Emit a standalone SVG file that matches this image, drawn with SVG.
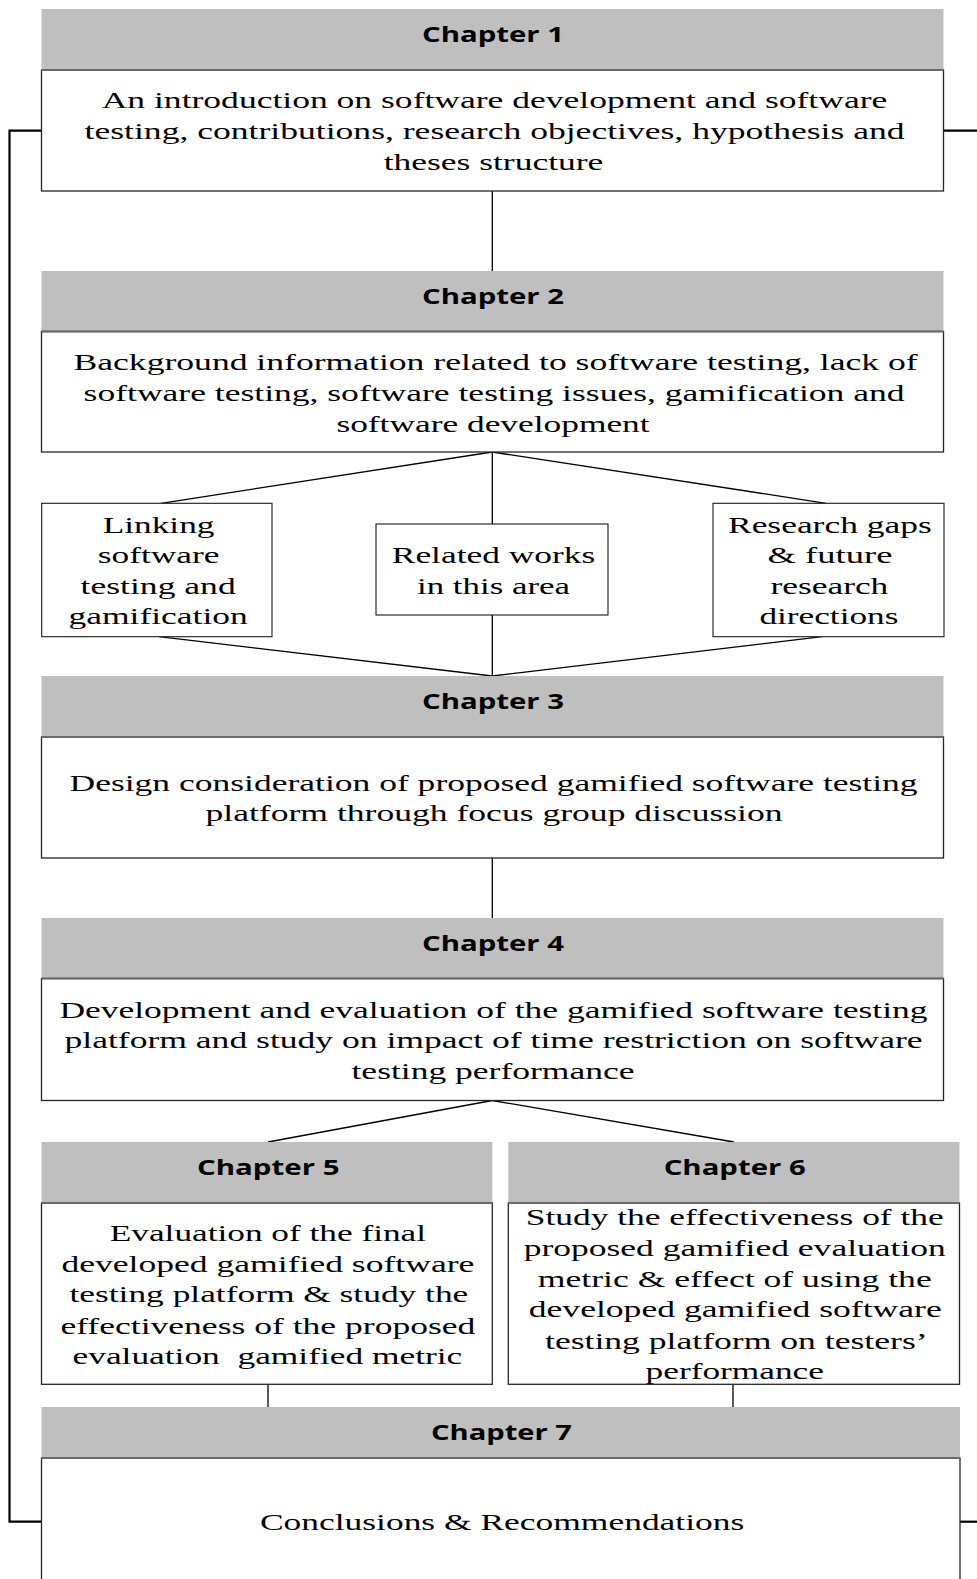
<svg xmlns="http://www.w3.org/2000/svg" width="977" height="1579" viewBox="0 0 977 1579">
  <style>
    .hdr { fill: #bfbfbf; stroke: none; }
    .body { fill: #ffffff; stroke: #262626; stroke-width: 1.3; }
    .sub { fill: #ffffff; stroke: #1a1a1a; stroke-width: 1.1; }
    .div { stroke: #6a6a6a; stroke-width: 2; fill: none; }
    .ht { font-family: "Open Sans", "Noto Sans", sans-serif; font-weight: 700; font-size: 22px; fill: #000; }
    .bt { font-family: "Liberation Serif", "Times New Roman", serif; font-size: 24px; fill: #000; white-space: pre; }
    .link { stroke: #000; stroke-width: 1.3; fill: none; }
    .outer { stroke: #000; stroke-width: 2.2; fill: none; }
  </style>

  <!-- connectors -->
  <g id="connectors">
    <line class="link" x1="492.3" y1="191" x2="492.3" y2="271"/>
    <line class="link" x1="492.3" y1="452" x2="161" y2="503.3"/>
    <line class="link" x1="492.3" y1="452" x2="826" y2="503.3"/>
    <line class="link" x1="492.3" y1="452" x2="492.3" y2="524"/>
    <line class="link" x1="159" y1="636.7" x2="492.3" y2="676"/>
    <line class="link" x1="822" y1="636.7" x2="492.3" y2="676"/>
    <line class="link" x1="492.3" y1="615" x2="492.3" y2="676"/>
    <line class="link" x1="492.3" y1="858" x2="492.3" y2="918"/>
    <line class="link" x1="492.3" y1="1100.5" x2="268" y2="1142"/>
    <line class="link" x1="492.3" y1="1100.5" x2="734" y2="1142"/>
    <line class="link" x1="268" y1="1384.3" x2="268" y2="1407"/>
    <line class="link" x1="733" y1="1384.3" x2="733" y2="1407"/>
    <polyline class="outer" points="41.5,130.7 9.5,130.7 9.5,1521.7 41.5,1521.7"/>
    <line class="outer" x1="943.5" y1="130.7" x2="977" y2="130.7"/>
    <line class="outer" x1="960" y1="1521.7" x2="977" y2="1521.7"/>
  </g>

  <!-- Chapter 1 -->
  <g id="chapter1">
    <rect class="hdr" x="41.5" y="9" width="902" height="61"/>
    <rect class="body" x="41.5" y="70" width="902" height="121"/>
    <line class="div" x1="41.5" y1="70" x2="943.5" y2="70"/>
    <text class="ht" x="422" y="42" textLength="142" lengthAdjust="spacingAndGlyphs">Chapter 1</text>
    <text class="bt" x="101.7" y="108" textLength="785.6" lengthAdjust="spacingAndGlyphs">An introduction on software development and software</text>
    <text class="bt" x="84.6" y="139" textLength="820" lengthAdjust="spacingAndGlyphs">testing, contributions, research objectives, hypothesis and</text>
    <text class="bt" x="383.7" y="170" textLength="219.6" lengthAdjust="spacingAndGlyphs">theses structure</text>
  </g>

  <!-- Chapter 2 -->
  <g id="chapter2">
    <rect class="hdr" x="41.5" y="271" width="902" height="60.5"/>
    <rect class="body" x="41.5" y="331.5" width="902" height="120.5"/>
    <line class="div" x1="41.5" y1="331.5" x2="943.5" y2="331.5"/>
    <text class="ht" x="422" y="304" textLength="142" lengthAdjust="spacingAndGlyphs">Chapter 2</text>
    <text class="bt" x="73.5" y="369.6" textLength="844.1" lengthAdjust="spacingAndGlyphs">Background information related to software testing, lack of</text>
    <text class="bt" x="83.6" y="400.8" textLength="820.9" lengthAdjust="spacingAndGlyphs">software testing, software testing issues, gamification and</text>
    <text class="bt" x="336.4" y="432" textLength="313.2" lengthAdjust="spacingAndGlyphs">software development</text>
  </g>

  <!-- Chapter 2 topics -->
  <g id="linking">
    <rect class="sub" x="41.7" y="503.3" width="230.3" height="133.4"/>
    <text class="bt" x="102.7" y="532.8" textLength="111.8" lengthAdjust="spacingAndGlyphs">Linking</text>
    <text class="bt" x="97.7" y="563" textLength="121.9" lengthAdjust="spacingAndGlyphs">software</text>
    <text class="bt" x="80.6" y="594.2" textLength="155.1" lengthAdjust="spacingAndGlyphs">testing and</text>
    <text class="bt" x="68.5" y="624.4" textLength="179.3" lengthAdjust="spacingAndGlyphs">gamification</text>
  </g>
  <g id="related">
    <rect class="sub" x="376" y="524" width="232" height="91"/>
    <text class="bt" x="391.8" y="563" textLength="203.5" lengthAdjust="spacingAndGlyphs">Related works</text>
    <text class="bt" x="417" y="594.2" textLength="153" lengthAdjust="spacingAndGlyphs">in this area</text>
  </g>
  <g id="gaps">
    <rect class="sub" x="713" y="503.3" width="231" height="133.4"/>
    <text class="bt" x="728" y="532.8" textLength="203.7" lengthAdjust="spacingAndGlyphs">Research gaps</text>
    <text class="bt" x="767.5" y="563" textLength="124.9" lengthAdjust="spacingAndGlyphs">&amp; future</text>
    <text class="bt" x="770.5" y="594.2" textLength="117.8" lengthAdjust="spacingAndGlyphs">research</text>
    <text class="bt" x="759.4" y="624.4" textLength="139" lengthAdjust="spacingAndGlyphs">directions</text>
  </g>

  <!-- Chapter 3 -->
  <g id="chapter3">
    <rect class="hdr" x="41.5" y="676" width="902" height="61"/>
    <rect class="body" x="41.5" y="737" width="902" height="121"/>
    <line class="div" x1="41.5" y1="737" x2="943.5" y2="737"/>
    <text class="ht" x="422" y="709" textLength="142" lengthAdjust="spacingAndGlyphs">Chapter 3</text>
    <text class="bt" x="69.5" y="790.6" textLength="848.1" lengthAdjust="spacingAndGlyphs">Design consideration of proposed gamified software testing</text>
    <text class="bt" x="205.5" y="820.8" textLength="577.1" lengthAdjust="spacingAndGlyphs">platform through focus group discussion</text>
  </g>

  <!-- Chapter 4 -->
  <g id="chapter4">
    <rect class="hdr" x="41.5" y="918" width="902" height="60.5"/>
    <rect class="body" x="41.5" y="978.5" width="902" height="122"/>
    <line class="div" x1="41.5" y1="978.5" x2="943.5" y2="978.5"/>
    <text class="ht" x="422" y="951" textLength="142" lengthAdjust="spacingAndGlyphs">Chapter 4</text>
    <text class="bt" x="59.4" y="1018.2" textLength="868.2" lengthAdjust="spacingAndGlyphs">Development and evaluation of the gamified software testing</text>
    <text class="bt" x="64.5" y="1048.4" textLength="858.1" lengthAdjust="spacingAndGlyphs">platform and study on impact of time restriction on software</text>
    <text class="bt" x="351.5" y="1078.7" textLength="283" lengthAdjust="spacingAndGlyphs">testing performance</text>
  </g>

  <!-- Chapter 5 -->
  <g id="chapter5">
    <rect class="hdr" x="41.5" y="1142" width="450.8" height="61"/>
    <rect class="body" x="41.5" y="1203" width="450.8" height="181.3"/>
    <line class="div" x1="41.5" y1="1203" x2="492.3" y2="1203"/>
    <text class="ht" x="197" y="1175" textLength="142.5" lengthAdjust="spacingAndGlyphs">Chapter 5</text>
    <text class="bt" x="109.8" y="1240.8" textLength="316.2" lengthAdjust="spacingAndGlyphs">Evaluation of the final</text>
    <text class="bt" x="61.4" y="1272" textLength="413" lengthAdjust="spacingAndGlyphs">developed gamified software</text>
    <text class="bt" x="69.5" y="1302.3" textLength="398.8" lengthAdjust="spacingAndGlyphs">testing platform &amp; study the</text>
    <text class="bt" x="60.4" y="1333.5" textLength="415" lengthAdjust="spacingAndGlyphs">effectiveness of the proposed</text>
    <text class="bt" x="72.5" y="1363.7" textLength="389.8" lengthAdjust="spacingAndGlyphs">evaluation  gamified metric</text>
  </g>

  <!-- Chapter 6 -->
  <g id="chapter6">
    <rect class="hdr" x="508.3" y="1142" width="451.2" height="61"/>
    <rect class="body" x="508.3" y="1203" width="451.2" height="181.3"/>
    <line class="div" x1="508.3" y1="1203" x2="959.5" y2="1203"/>
    <text class="ht" x="663.7" y="1175" textLength="142" lengthAdjust="spacingAndGlyphs">Chapter 6</text>
    <text class="bt" x="525.8" y="1224.7" textLength="417.9" lengthAdjust="spacingAndGlyphs">Study the effectiveness of the</text>
    <text class="bt" x="523.7" y="1256" textLength="422.1" lengthAdjust="spacingAndGlyphs">proposed gamified evaluation</text>
    <text class="bt" x="537.8" y="1287" textLength="393.9" lengthAdjust="spacingAndGlyphs">metric &amp; effect of using the</text>
    <text class="bt" x="528.8" y="1317.4" textLength="412.9" lengthAdjust="spacingAndGlyphs">developed gamified software</text>
    <text class="bt" x="545" y="1348.6" textLength="382.6" lengthAdjust="spacingAndGlyphs">testing platform on testers’</text>
    <text class="bt" x="645.6" y="1378.8" textLength="178.3" lengthAdjust="spacingAndGlyphs">performance</text>
  </g>

  <!-- Chapter 7 -->
  <g id="chapter7">
    <rect class="hdr" x="41.5" y="1407" width="918.5" height="51"/>
    <rect class="body" x="41.5" y="1458" width="918.5" height="140"/>
    <line class="div" x1="41.5" y1="1458" x2="960" y2="1458"/>
    <text class="ht" x="431" y="1440" textLength="141" lengthAdjust="spacingAndGlyphs">Chapter 7</text>
    <text class="bt" x="259.9" y="1530" textLength="484.4" lengthAdjust="spacingAndGlyphs">Conclusions &amp; Recommendations</text>
  </g>
</svg>
